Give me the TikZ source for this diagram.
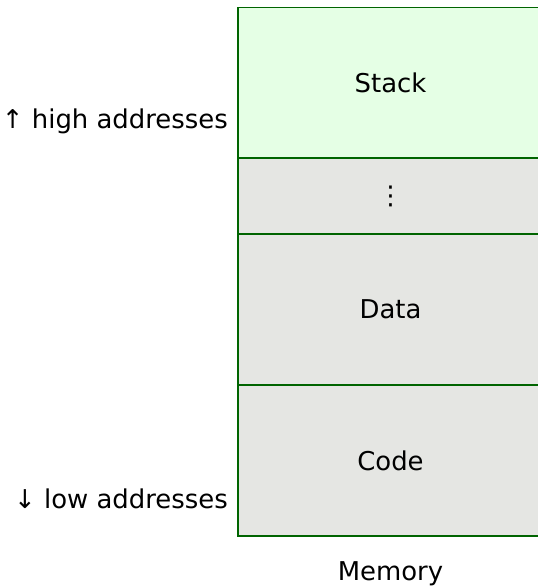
\documentclass[tikz,border=0pt]{standalone}
\usepackage{fontspec}
\setmainfont{DejaVu Sans}
\definecolor{segline}{RGB}{0,100,0}
\definecolor{stackfill}{RGB}{229,255,229}
\definecolor{segfill}{RGB}{229,230,227}
\begin{document}
\begin{tikzpicture}[x=1bp,y=-1bp,
  txt/.style={font=\fontsize{26}{31}\selectfont, inner sep=0pt},
  seg/.style={txt, draw=segline, line width=1.2bp, minimum width=305bp, outer sep=0pt},
  label/.style={txt, anchor=east}]
\useasboundingbox (0,0) rectangle (538,586);
\clip (0,0) rectangle (538,586);
\node[seg, fill=stackfill, minimum height=150.5bp] (stack) at (390.5,83) {\raisebox{-2bp}{Stack}};
\node[seg, fill=segfill, minimum height=76bp] (gap) at (390.5,196) {⋮};
\node[seg, fill=segfill, minimum height=151bp] (data) at (390.5,309.5) {\raisebox{-1bp}{Data}};
\node[seg, fill=segfill, minimum height=151bp] (code) at (390.5,460.5) {\raisebox{-2bp}{Code}};
\node[txt] (mem) at (390.5,574) {Memory};
\node[label] (high) at (228,121) {↑ high addresses};
\node[label] (low) at (228,499) {↓ low addresses};
\end{tikzpicture}
\end{document}
